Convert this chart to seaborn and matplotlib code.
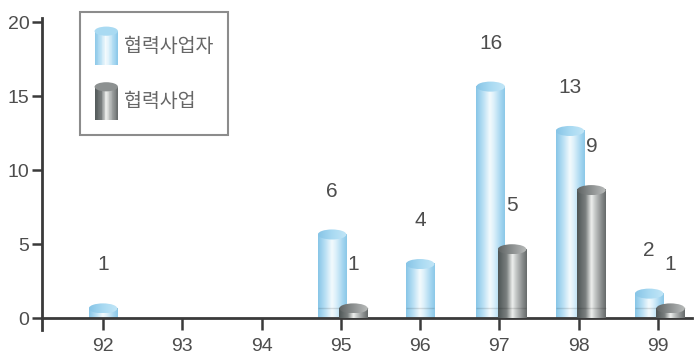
import numpy as np
import pandas as pd
import matplotlib
matplotlib.use("Agg")
import matplotlib.pyplot as plt
from matplotlib.colors import LinearSegmentedColormap
from matplotlib.patches import Ellipse, Rectangle
from matplotlib.legend_handler import HandlerBase
from matplotlib.font_manager import FontProperties
import seaborn as sns

# 연도별 건수
years = ["92", "93", "94", "95", "96", "97", "98", "99"]
partners = [1, 0, 0, 6, 4, 16, 13, 2]   # 협력사업자
projects = [0, 0, 0, 1, 0, 5, 9, 1]     # 협력사업
series_names = ["협력사업자", "협력사업"]
y_ticks = [0, 5, 10, 15, 20]

sns.set_theme(style="white")
plt.rcParams["font.family"] = ["Liberation Sans Narrow", "Liberation Sans", "DejaVu Sans"]

TEXT = "#4d4d4d"
AXIS = "#3a3a3a"

# cylinder shading: body gradient left->right, and top-face gradient
body_maps = {
    series_names[0]: LinearSegmentedColormap.from_list("blue_body", [
        (0.0, "#86c5e7"), (0.25, "#b9e0f4"), (0.48, "#f3fafd"),
        (0.62, "#dcf0fa"), (0.88, "#9fd3ef"), (1.0, "#8bc8e8")]),
    series_names[1]: LinearSegmentedColormap.from_list("gray_body", [
        (0.0, "#4e5555"), (0.3, "#7b8080"), (0.5, "#eef0ee"),
        (0.62, "#c6c9c8"), (0.86, "#868a8a"), (1.0, "#666a6a")]),
}
cap_maps = {
    series_names[0]: LinearSegmentedColormap.from_list("blue_cap", [
        (0.0, "#86c4e6"), (0.5, "#a9daf2"), (1.0, "#c2e6f7")]),
    series_names[1]: LinearSegmentedColormap.from_list("gray_cap", [
        (0.0, "#5e6363"), (0.5, "#8d9191"), (1.0, "#b9bcbb")]),
}

df = pd.DataFrame({
    "year": years * 2,
    "count": partners + projects,
    "series": [series_names[0]] * len(years) + [series_names[1]] * len(years),
})
df = df[df["count"] > 0]

fig = plt.figure(figsize=(6.95, 3.58), dpi=100)
ax = fig.add_axes([42 / 695, 28 / 358, 650 / 695, 312 / 358])

sns.barplot(data=df, x="year", y="count", hue="series", order=years,
            hue_order=series_names, dodge=False, width=0.36,
            palette=["#9fd3ee", "#8e9292"], legend=False, ax=ax)

paired = {i for i in range(len(years)) if partners[i] > 0 and projects[i] > 0}
pair_shift = {series_names[0]: -0.11, series_names[1]: 0.16}
CAP = 0.68
grad = np.linspace(0, 1, 256).reshape(1, -1)

for z, (container, name) in enumerate(zip(ax.containers, series_names)):
    zbase = 2 + z
    for bar in container:
        h = bar.get_height()
        if not np.isfinite(h) or h <= 0:
            continue
        w = bar.get_width()
        idx = int(round(bar.get_x() + w / 2))
        shift = pair_shift[name] if idx in paired else 0.0
        x0 = idx + shift - w / 2
        bar.set_x(x0)
        bar.set_visible(False)
        top = h - CAP / 2
        ax.imshow(grad, cmap=body_maps[name], extent=(x0, x0 + w, 0, top),
                  aspect="auto", interpolation="bilinear", zorder=zbase)
        ax.plot([x0, x0 + w], [0.72, 0.72], color="black", alpha=0.12,
                lw=1, zorder=zbase + 0.05, solid_capstyle="butt")
        ell = Ellipse((x0 + w / 2, top), w, CAP, facecolor="none",
                      edgecolor="none", transform=ax.transData)
        ax.add_patch(ell)
        cap_im = ax.imshow(grad, cmap=cap_maps[name],
                           extent=(x0, x0 + w, top - CAP / 2, top + CAP / 2),
                           aspect="auto", interpolation="bilinear",
                           zorder=zbase + 0.1)
        cap_im.set_clip_path(ell)
        ax.text(x0 + w / 2, h + 2.6, f"{int(h)}", ha="center", va="center",
                fontsize=15, color=TEXT, zorder=6)


class CylinderHandler(HandlerBase):
    def __init__(self, body, cap):
        super().__init__()
        self.body = body
        self.cap = cap

    def create_artists(self, legend, orig_handle, xdescent, ydescent,
                       width, height, fontsize, trans):
        n = 30
        x0, y0 = -xdescent, -ydescent
        cap_h = height * 0.24
        body_top = y0 + height - cap_h / 2
        arts = []
        for i in range(n):
            arts.append(Rectangle((x0 + i * width / n, y0), width / n * 1.1,
                                  body_top - y0, facecolor=self.body((i + 0.5) / n),
                                  edgecolor="none", transform=trans))
        arts.append(Ellipse((x0 + width / 2, body_top), width, cap_h,
                            facecolor=self.cap(0.5), edgecolor="none",
                            transform=trans))
        return arts


handles = [Rectangle((0, 0), 1, 1), Rectangle((0, 0), 1, 1)]
hmap = {hd: CylinderHandler(body_maps[n], cap_maps[n])
        for hd, n in zip(handles, series_names)}
leg = ax.legend(handles, series_names, handler_map=hmap,
                prop=FontProperties(family=["Noto Sans CJK KR"], size=14, weight="light"),
                loc="upper left", bbox_to_anchor=(80 / 695, 1 - 12 / 358),
                bbox_transform=fig.transFigure, borderaxespad=0,
                handlelength=1.2, handleheight=2.64, labelspacing=0.9,
                borderpad=0.75, handletextpad=0.3, frameon=True,
                fancybox=False, framealpha=1, edgecolor="#8c8c8c")
leg.get_frame().set_linewidth(1.5)
for t in leg.get_texts():
    t.set_color("#666666")

ax.set_xlim(-0.77, 7.43)
ax.set_ylim(-0.8, 20.3)
ax.set_yticks(y_ticks)
ax.set_yticklabels([str(v) for v in y_ticks])
ax.set_xticks(range(len(years)))
ax.set_xticklabels(years)
ax.set_xlabel("")
ax.set_ylabel("")

for side in ("top", "right"):
    ax.spines[side].set_visible(False)
ax.spines["bottom"].set_position(("data", 0))
for side in ("left", "bottom"):
    ax.spines[side].set_color(AXIS)
    ax.spines[side].set_linewidth(2)

ax.tick_params(axis="x", direction="out", length=8.5, width=1.8, color=AXIS,
               labelsize=14, labelcolor=TEXT, pad=6, bottom=True)
ax.tick_params(axis="y", direction="out", length=7, width=1.8, color=AXIS,
               labelsize=14, labelcolor=TEXT, pad=2, left=True)

fig.savefig("out.png", dpi=100, facecolor="white")
